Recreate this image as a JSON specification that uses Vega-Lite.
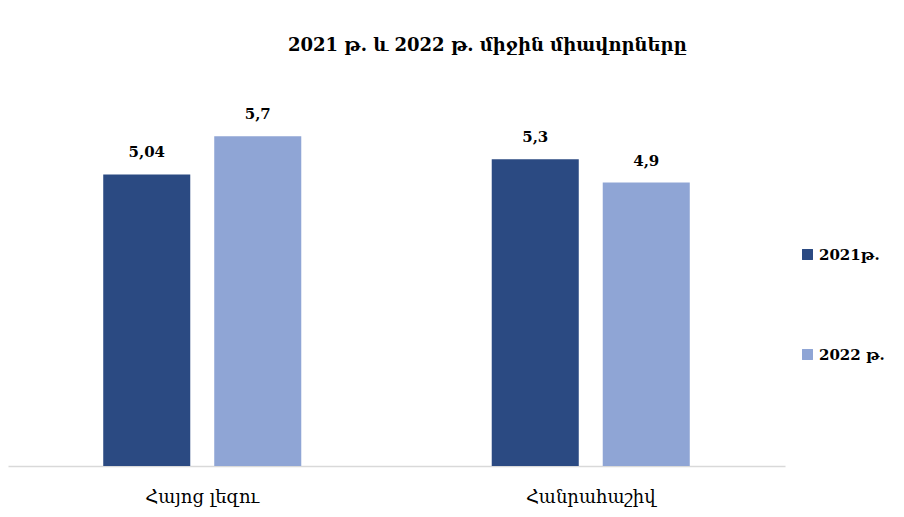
{
  "$schema": "https://vega.github.io/schema/vega-lite/v6.json",
  "autosize": {"type": "none"},
  "width": 777,
  "height": 405,
  "padding": {"left": 8, "top": 61, "right": 119, "bottom": 51},
  "background": "white",
  "config": {
    "view": {"stroke": null},
    "locale": {"number": {"decimal": ",", "thousands": " ", "grouping": [3], "currency": ["", ""]}}
  },
  "title": {
    "text": "2021 թ. և 2022 թ. միջին միավորները",
    "font": "DejaVu Serif",
    "fontSize": 18,
    "fontWeight": "bold",
    "color": "#000000",
    "anchor": "start",
    "dx": 280,
    "offset": 5,
    "baseline": "bottom",
    "dy": 17
  },
  "data": {
    "values": [
      {"subject": "Հայոց լեզու", "year": "2021թ.", "score": 5.04},
      {"subject": "Հայոց լեզու", "year": "2022 թ.", "score": 5.7},
      {"subject": "Հանրահաշիվ", "year": "2021թ.", "score": 5.3},
      {"subject": "Հանրահաշիվ", "year": "2022 թ.", "score": 4.9}
    ]
  },
  "encoding": {
    "x": {
      "field": "subject",
      "type": "nominal",
      "sort": null,
      "scale": {"paddingInner": 0, "paddingOuter": 0},
      "axis": {
        "title": null,
        "labelAngle": 0,
        "ticks": false,
        "domainColor": "#d9d9d9",
        "domainWidth": 1.5,
        "labelFont": "DejaVu Serif",
        "labelFontSize": 18,
        "labelColor": "#000000",
        "labelPadding": 22
      }
    },
    "xOffset": {
      "field": "year",
      "type": "nominal",
      "scale": {"paddingInner": 0.216, "paddingOuter": 0.858}
    },
    "y": {
      "field": "score",
      "type": "quantitative",
      "scale": {"domain": [0, 7]},
      "axis": null
    }
  },
  "layer": [
    {
      "mark": {"type": "bar"},
      "encoding": {
        "color": {
          "field": "year",
          "type": "nominal",
          "scale": {"domain": ["2021թ.", "2022 թ."], "range": ["#2b4a82", "#8fa5d5"]},
          "legend": {
            "title": null,
            "orient": "none",
            "legendX": 792,
            "legendY": 186,
            "symbolType": "square",
            "symbolSize": 120,
            "symbolStrokeWidth": 0,
            "rowPadding": 84,
            "labelFont": "DejaVu Serif",
            "labelFontSize": 15,
            "labelFontWeight": "bold",
            "labelColor": "#000000",
            "labelOffset": 4
          }
        }
      }
    },
    {
      "mark": {
        "type": "text",
        "dy": -14,
        "baseline": "bottom",
        "font": "DejaVu Serif",
        "fontSize": 15,
        "fontWeight": "bold",
        "color": "#000000"
      },
      "encoding": {
        "text": {"field": "score", "type": "quantitative", "format": ".2~f"}
      }
    }
  ]
}
